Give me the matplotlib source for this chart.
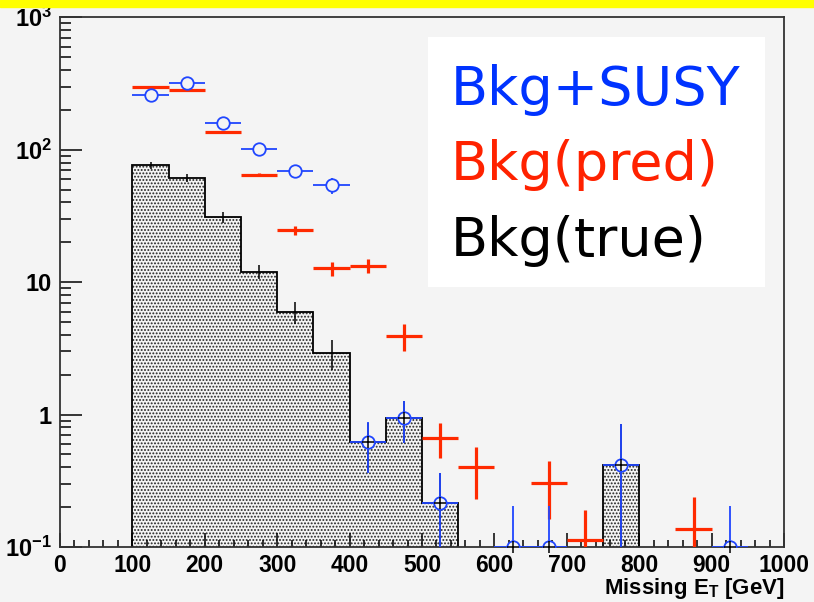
import matplotlib
matplotlib.use("Agg")
import matplotlib.pyplot as plt
import numpy as np
from matplotlib.ticker import FixedLocator, MultipleLocator, LogLocator, NullFormatter

plt.rcParams['mathtext.fontset'] = 'custom'
plt.rcParams['mathtext.rm'] = 'Liberation Sans'
plt.rcParams['mathtext.bf'] = 'Liberation Sans:bold'
plt.rcParams['hatch.linewidth'] = 0.9

# Bkg(true) histogram, 50 GeV bins from 100 to 800
true_edges = [100, 150, 200, 250, 300, 350, 400, 450, 500, 550, 600, 650, 700, 750, 800]
true_vals = [76.6, 61.0, 30.9, 12.0, 5.97, 2.93, 0.62, 0.935, 0.215, 0, 0, 0, 0, 0.414]
true_err = [4.6, 4.0, 3.1, 1.5, 1.1, 0.75, 0.25, 0.33, 0.15, 0, 0, 0, 0, 0.44]

# Bkg+SUSY points
susy_x = [125, 175, 225, 275, 325, 375, 425, 475, 525, 625, 675, 775, 925]
susy_y = [259, 319, 160, 101, 69, 53.7, 0.62, 0.935, 0.215, 0.1, 0.1, 0.414, 0.1]
susy_err = [16, 18, 12.6, 10, 8.3, 7.3, 0.26, 0.33, 0.15, 0.105, 0.105, 0.44, 0.105]

# Bkg(pred) points
pred_x = [125, 175, 225, 275, 325, 375, 425, 475, 525, 575, 675, 725, 875]
pred_y = [298, 284, 135.6, 64.7, 24.6, 12.7, 13.3, 3.93, 0.668, 0.40, 0.303, 0.113, 0.137]
pred_err = [3, 3, 2, 1.5, 2.0, 1.6, 1.6, 0.9, 0.2, 0.17, 0.14, 0.076, 0.1]

bin_half = 25
bg = '#f4f4f4'
blue = '#2046ff'
red = '#ff2a00'

fig = plt.figure(figsize=(8.14, 6.02), dpi=100, facecolor=bg)
fig.patches.append(plt.Rectangle((0, 1 - 7 / 602), 1, 7 / 602, transform=fig.transFigure,
                                 color='#ffff00', zorder=0))
ax = fig.add_axes([60 / 814, 55 / 602, 724 / 814, 529.7 / 602])
ax.set_facecolor(bg)
ax.set_yscale('log')

# true histogram
edges = np.array(true_edges)
vals = np.array(true_vals, dtype=float)
plot_vals = np.where(vals > 0, vals, 1e-3)
ax.stairs(plot_vals, edges, baseline=1e-3, fill=True, facecolor=bg, edgecolor='#222222',
          hatch='.....', linewidth=0, zorder=1)
ax.stairs(plot_vals, edges, baseline=1e-3, fill=False, edgecolor='black', linewidth=1.3, zorder=2)
centers = (edges[:-1] + edges[1:]) / 2
mask = vals > 0
ax.errorbar(centers[mask], vals[mask], yerr=np.array(true_err)[mask], fmt='none',
            ecolor='black', elinewidth=1.1, zorder=3)

# Bkg(pred)
ax.errorbar(pred_x, pred_y, xerr=bin_half, yerr=pred_err, fmt='none', ecolor=red,
            elinewidth=2.3, zorder=4)

# Bkg+SUSY
ax.errorbar(susy_x, susy_y, xerr=bin_half, yerr=susy_err, fmt='o', color=blue,
            ecolor=blue, elinewidth=1.3, markersize=9, markerfacecolor=bg,
            markeredgecolor=blue, markeredgewidth=1.3, zorder=5)
low = np.array(susy_y) < 1
ax.plot(np.array(susy_x)[low], np.array(susy_y)[low], '+', color='black',
        markersize=9, markeredgewidth=1.1, zorder=6, clip_on=False)

ax.set_xlim(0, 1000)
ax.set_ylim(0.1, 1000)

for s in ax.spines.values():
    s.set_color('#333333')
    s.set_linewidth(1.3)

ax.xaxis.set_major_locator(MultipleLocator(100))
ax.xaxis.set_minor_locator(MultipleLocator(20))
ax.tick_params(axis='x', which='major', direction='in', length=10, width=1.1, pad=5,
               labelsize=16.5, bottom=True, top=False)
ax.tick_params(axis='x', which='minor', direction='in', length=5, width=1.1,
               bottom=True, top=False)
for lab in ax.get_xticklabels():
    lab.set_fontweight('bold')
    lab.set_family('Liberation Sans')

ax.yaxis.set_major_locator(FixedLocator([0.1, 1, 10, 100, 1000]))
ax.set_yticklabels([r'$\mathbf{10^{-1}}$', '1', '10', r'$\mathbf{10^{2}}$', r'$\mathbf{10^{3}}$'])
ax.yaxis.set_minor_locator(LogLocator(base=10, subs=np.arange(2, 10)))
ax.yaxis.set_minor_formatter(NullFormatter())
ax.tick_params(axis='y', which='major', direction='in', length=16, width=1.1, pad=6,
               labelsize=17, left=True, right=False)
ax.tick_params(axis='y', which='minor', direction='in', length=7.7, width=1.1,
               left=True, right=False)
for lab in ax.get_yticklabels():
    lab.set_fontweight('bold')
    lab.set_family('Liberation Sans')

fig.text(784 / 814, 1 - 594 / 602, r'Missing E$_{\mathbf{T}}$ [GeV]', ha='right', va='baseline',
         fontsize=16, fontweight='bold', family='Liberation Sans')

# legend box
fig.patches.append(plt.Rectangle((428 / 814, 1 - 287 / 602), 337 / 814, 250 / 602,
                                 transform=fig.transFigure, facecolor='white',
                                 edgecolor='none', zorder=5))
leg_labels = ['Bkg+SUSY', 'Bkg(pred)', 'Bkg(true)']
leg_colors = ['#0033ff', '#ff2200', 'black']
leg_base = [105, 180, 256]
for t, c, yb in zip(leg_labels, leg_colors, leg_base):
    fig.text(451 / 814, 1 - yb / 602, t, color=c, fontsize=39, ha='left', va='baseline',
             family='DejaVu Sans', zorder=6)

fig.savefig('out.png', dpi=100, facecolor=bg)
